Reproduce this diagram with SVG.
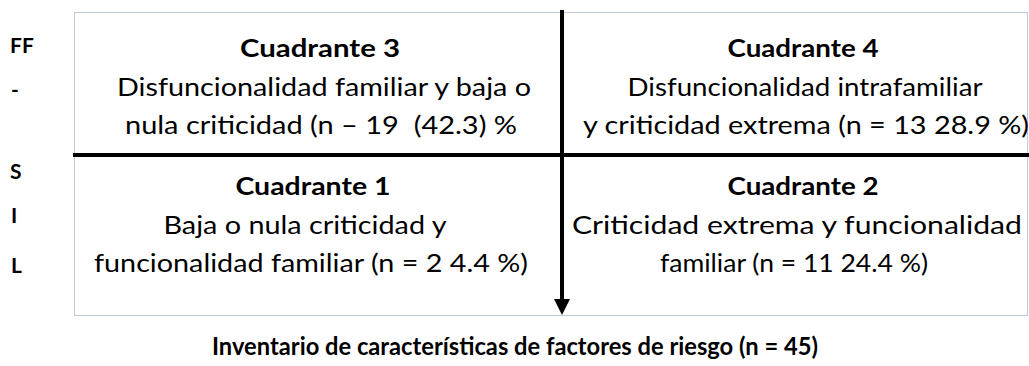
<svg xmlns="http://www.w3.org/2000/svg" width="1029" height="366" viewBox="0 0 1029 366">
<style>
text{font-family:Lato,"Open Sans","Liberation Sans",sans-serif;fill:#000;}
.t{font-size:25px;font-weight:bold;text-anchor:middle;}
.b{font-size:25px;text-anchor:middle;}
.s{font-size:21px;font-weight:bold;}
.frame{fill:none;stroke:#7f96bb;stroke-width:1;stroke-dasharray:1 1;}
.axis{stroke:#000;stroke-width:4;fill:none;}
</style>
<defs>
<marker id="ah" markerWidth="4" markerHeight="4" refX="1" refY="2" orient="auto" markerUnits="strokeWidth">
<path d="M0,0 L4,2 L0,4 Z" fill="#000"/>
</marker>
</defs>
<rect class="frame" x="74.5" y="12.5" width="953" height="303"/>
<g id="connectors">
<line class="axis" x1="73" y1="155" x2="1029" y2="155"/>
<line class="axis" x1="562" y1="10" x2="562" y2="303" marker-end="url(#ah)"/>
</g>
<g id="left-label">
<text class="s" x="10" y="53">FF</text>
<text class="s" x="11" y="97">-</text>
<text class="s" x="10" y="179">S</text>
<text class="s" x="11" y="223">I</text>
<text class="s" x="11" y="273">L</text>
</g>
<g id="q3">
<text class="t" x="320" y="57" textLength="160" lengthAdjust="spacingAndGlyphs">Cuadrante 3</text>
<text class="b" x="324" y="96" textLength="414" lengthAdjust="spacingAndGlyphs">Disfuncionalidad familiar y baja o</text>
<text class="b" x="321" y="134" textLength="392" lengthAdjust="spacingAndGlyphs" xml:space="preserve">nula criticidad (n – 19  (42.3) %</text>
</g>
<g id="q4">
<text class="t" x="803" y="57" textLength="151" lengthAdjust="spacingAndGlyphs">Cuadrante 4</text>
<text class="b" x="805" y="96" textLength="355" lengthAdjust="spacingAndGlyphs">Disfuncionalidad intrafamiliar</text>
<text class="b" x="583" y="134" style="text-anchor:start" textLength="446" lengthAdjust="spacingAndGlyphs">y criticidad extrema (n = 13 28.9 %)</text>
</g>
<g id="q1">
<text class="t" x="313" y="195" textLength="155" lengthAdjust="spacingAndGlyphs">Cuadrante 1</text>
<text class="b" x="305" y="234" textLength="283" lengthAdjust="spacingAndGlyphs">Baja o nula criticidad y</text>
<text class="b" x="311" y="272" textLength="434" lengthAdjust="spacingAndGlyphs">funcionalidad familiar (n = 2 4.4 %)</text>
</g>
<g id="q2">
<text class="t" x="803" y="195" textLength="151" lengthAdjust="spacingAndGlyphs">Cuadrante 2</text>
<text class="b" x="797" y="234" textLength="450" lengthAdjust="spacingAndGlyphs">Criticidad extrema y funcionalidad</text>
<text class="b" x="794" y="272" textLength="268" lengthAdjust="spacingAndGlyphs">familiar (n = 11 24.4 %)</text>
</g>
<g id="x-axis-label">
<text class="t" x="515" y="355" textLength="606" lengthAdjust="spacingAndGlyphs">Inventario de características de factores de riesgo (n = 45)</text>
</g>
</svg>
